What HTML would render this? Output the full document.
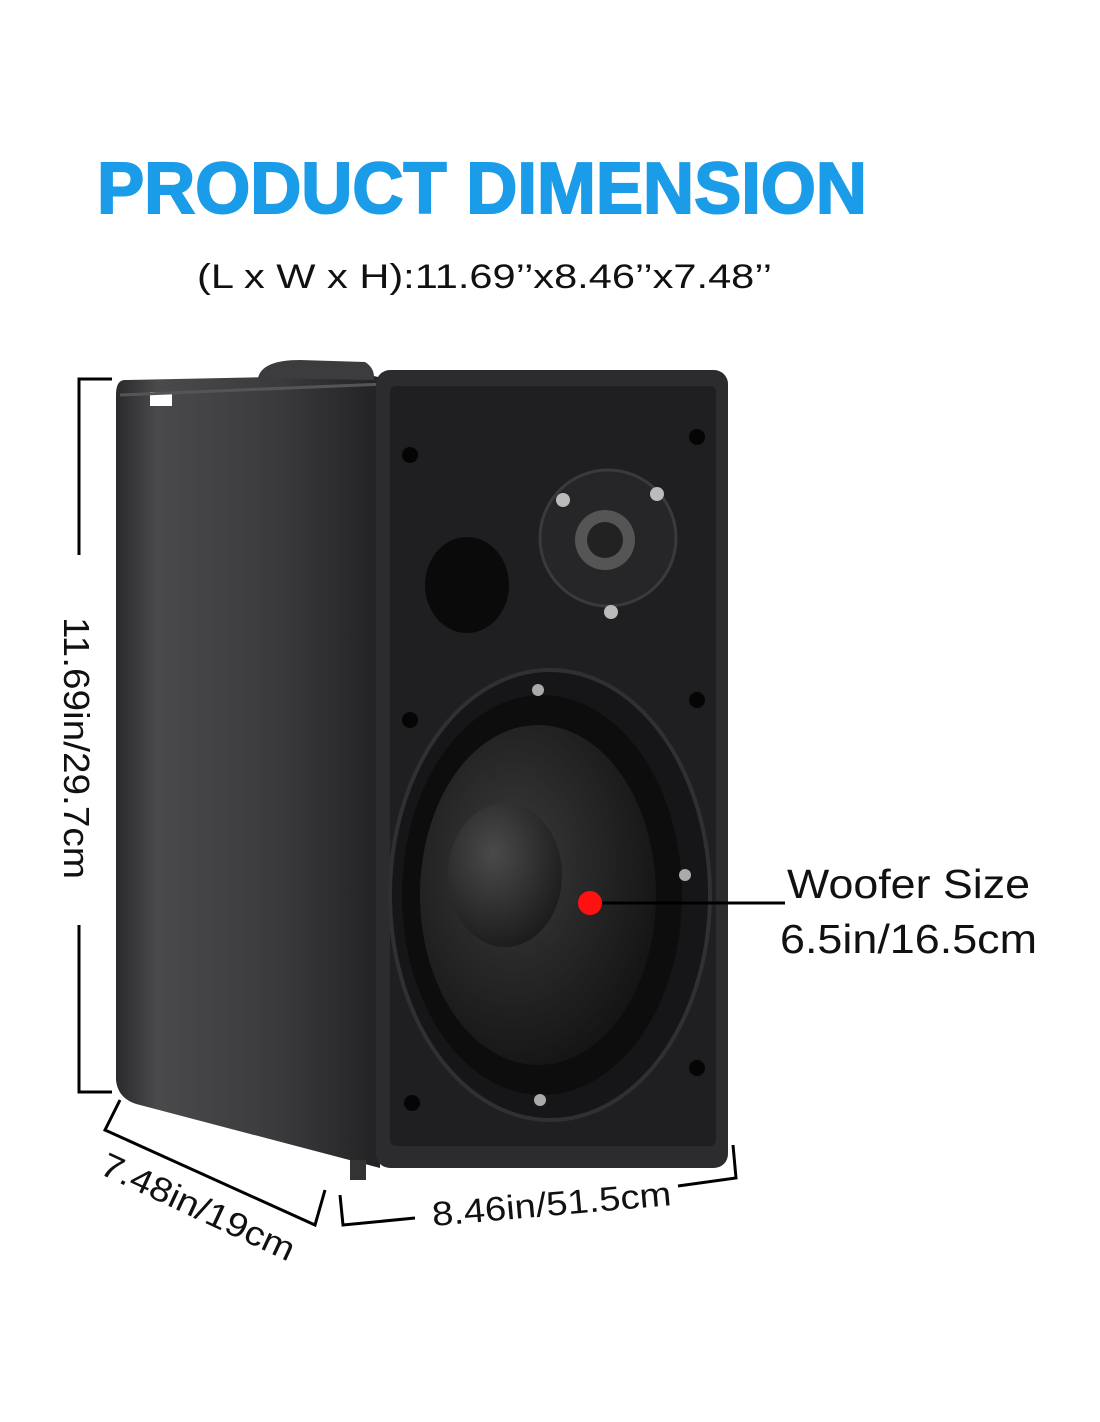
<!DOCTYPE html>
<html><head><meta charset="utf-8"><style>
html,body{margin:0;padding:0;background:#fff}
svg{display:block}
text{font-family:"Liberation Sans",sans-serif}
</style></head><body>
<svg width="1100" height="1422" viewBox="0 0 1100 1422" xmlns="http://www.w3.org/2000/svg">
<defs>
<linearGradient id="side" x1="0" x2="1" y1="0" y2="0">
<stop offset="0" stop-color="#2a2a2c"/><stop offset="0.15" stop-color="#4a4a4d"/><stop offset="0.6" stop-color="#3a3a3c"/><stop offset="1" stop-color="#202022"/>
</linearGradient>
<radialGradient id="cone" cx="0.4" cy="0.4" r="0.7">
<stop offset="0" stop-color="#3a3a3a"/><stop offset="1" stop-color="#111"/>
</radialGradient>
<radialGradient id="cap" cx="0.4" cy="0.35" r="0.7">
<stop offset="0" stop-color="#4a4a4a"/><stop offset="1" stop-color="#1a1a1a"/>
</radialGradient>
</defs>
<text x="97" y="213" font-size="72" font-weight="bold" fill="#1a9ce8" stroke="#1a9ce8" stroke-width="2" textLength="770" lengthAdjust="spacingAndGlyphs">PRODUCT DIMENSION</text>
<text x="197" y="288" font-size="34" fill="#111" textLength="575" lengthAdjust="spacingAndGlyphs">(L x W x H):11.69’’x8.46’’x7.48’’</text>

<!-- side body -->
<path d="M125 380 Q116 380 116 395 L116 1080 Q118 1100 140 1105 L380 1168 L390 380 L370 375 L125 380 Z" fill="url(#side)"/>
<path d="M258 378 Q262 360 300 360 L365 362 Q375 368 374 380 Z" fill="#3c3c3e"/>
<rect x="150" y="392" width="22" height="14" fill="#fff"/>
<path d="M120 395 L385 384" stroke="#555" stroke-width="3"/>
<!-- front face -->
<rect x="376" y="370" width="352" height="798" rx="14" fill="#2c2c2e"/>
<rect x="390" y="386" width="326" height="760" rx="6" fill="#1f1f21"/>
<g fill="#050505">
<circle cx="410" cy="455" r="8"/><circle cx="697" cy="437" r="8"/>
<circle cx="410" cy="720" r="8"/><circle cx="697" cy="700" r="8"/>
<circle cx="412" cy="1103" r="8"/><circle cx="697" cy="1068" r="8"/>
</g>
<ellipse cx="467" cy="585" rx="42" ry="48" fill="#0a0a0a"/>
<circle cx="608" cy="538" r="68" fill="#262628" stroke="#3a3a3c" stroke-width="3"/>
<circle cx="605" cy="540" r="30" fill="#555"/>
<circle cx="605" cy="540" r="18" fill="#222"/>
<g fill="#bbb"><circle cx="563" cy="500" r="7"/><circle cx="657" cy="494" r="7"/><circle cx="611" cy="612" r="7"/></g>
<ellipse cx="550" cy="895" rx="160" ry="225" fill="#161618" stroke="#303032" stroke-width="4"/>
<ellipse cx="542" cy="895" rx="140" ry="200" fill="#0d0d0d"/>
<ellipse cx="538" cy="895" rx="118" ry="170" fill="url(#cone)"/>
<ellipse cx="505" cy="875" rx="57" ry="72" fill="url(#cap)"/>
<g fill="#aaa"><circle cx="538" cy="690" r="6"/><circle cx="685" cy="875" r="6"/><circle cx="540" cy="1100" r="6"/></g>
<rect x="350" y="1160" width="16" height="20" fill="#333"/>

<line x1="590" y1="903" x2="785" y2="903" stroke="#000" stroke-width="3"/>
<circle cx="590" cy="903" r="12" fill="#ff1111"/>
<text x="787" y="898" font-size="41" fill="#111" textLength="243" lengthAdjust="spacingAndGlyphs">Woofer Size</text>
<text x="780" y="953" font-size="41" fill="#111" textLength="257" lengthAdjust="spacingAndGlyphs">6.5in/16.5cm</text>

<g stroke="#000" stroke-width="3" fill="none">
<path d="M112 379 L79 379 L79 555"/>
<path d="M79 925 L79 1092 L112 1092"/>
<path d="M120 1100 L105 1130 L315 1225 L325 1190"/>
<path d="M340 1195 L343 1225 L415 1218"/>
<path d="M678 1186 L736 1178 L733 1145"/>
</g>
<text transform="translate(64,617) rotate(90)" font-size="36" fill="#111" textLength="262" lengthAdjust="spacingAndGlyphs">11.69in/29.7cm</text>
<text transform="translate(98,1173) rotate(25)" font-size="34" fill="#111" textLength="210" lengthAdjust="spacingAndGlyphs">7.48in/19cm</text>
<text transform="translate(433,1226) rotate(-5)" font-size="34" fill="#111" textLength="240" lengthAdjust="spacingAndGlyphs">8.46in/51.5cm</text>
</svg>
</body></html>
